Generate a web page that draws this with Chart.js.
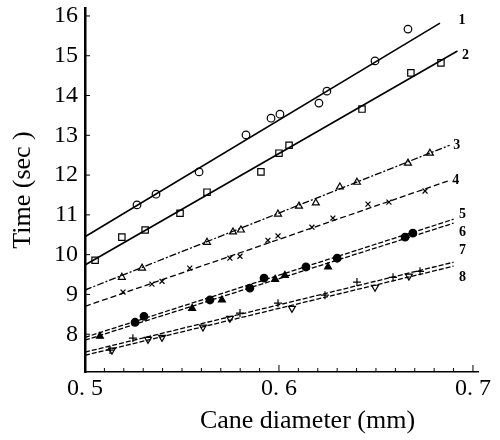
<!DOCTYPE html>
<html>
<head>
<meta charset="utf-8">
<script src="https://cdn.jsdelivr.net/npm/chart.js@4.4.1/dist/chart.umd.min.js"></script>
<style>
  body { margin: 0; background: #fff; }
  #wrap { width: 500px; height: 440px; }
</style>
</head>
<body>
<div id="wrap"><canvas id="cane-chart" width="500" height="440"></canvas></div>
<script>
// tick labels
const xTickValues = [0.5, 0.6, 0.7];
const xTickLabels = ['0. 5', '0. 6', '0. 7'];
const yTickValues = [8, 9, 10, 11, 12, 13, 14, 15, 16];
const seriesNames = ['1', '2', '3', '4', '5', '6', '7', '8'];
const xTitle = 'Cane diameter (mm)';
const yTitle = 'Time (sec )';

// measured points, one pair of arrays per curve
const s1X = [0.5268, 0.5366, 0.5588, 0.5830, 0.5959, 0.6005, 0.6206, 0.6247, 0.6495, 0.6665];
const s1Y = [11.25, 11.52, 12.08, 13.01, 13.43, 13.53, 13.81, 14.11, 14.87, 15.67];
const s2X = [0.5052, 0.519, 0.531, 0.549, 0.5629, 0.5907, 0.600, 0.6052, 0.6428, 0.668, 0.6835];
const s2Y = [9.86, 10.44, 10.62, 11.04, 11.57, 12.08, 12.55, 12.75, 13.66, 14.57, 14.82];
const s3X = [0.519, 0.5294, 0.5629, 0.5763, 0.5804, 0.5995, 0.6103, 0.619, 0.6314, 0.6402, 0.6665, 0.6778];
const s3Y = [9.43, 9.66, 10.31, 10.57, 10.62, 11.02, 11.22, 11.30, 11.70, 11.82, 12.30, 12.55];
const s4X = [0.5196, 0.5345, 0.5397, 0.554, 0.5747, 0.5799, 0.5943, 0.5995, 0.617, 0.6278, 0.6459, 0.6567, 0.6753];
const s4Y = [9.06, 9.26, 9.33, 9.66, 9.91, 9.96, 10.36, 10.47, 10.69, 10.92, 11.27, 11.32, 11.60];
const s5X = [0.5258, 0.5304, 0.5644, 0.585, 0.5923, 0.6139, 0.630, 0.665, 0.669];
const s5Y = [8.30, 8.45, 8.86, 9.16, 9.41, 9.69, 9.91, 10.44, 10.54];
const s6X = [0.5077, 0.5552, 0.5706, 0.598, 0.603, 0.6253];
const s6Y = [7.95, 8.65, 8.86, 9.38, 9.48, 9.69];
const s7X = [0.5129, 0.5247, 0.5799, 0.5995, 0.6237, 0.6402, 0.6588, 0.6727];
const s7Y = [7.60, 7.90, 8.53, 8.78, 8.98, 9.31, 9.43, 9.58];
const s8X = [0.5139, 0.5325, 0.5397, 0.5608, 0.5747, 0.6067, 0.6495, 0.667];
const s8Y = [7.60, 7.87, 7.92, 8.18, 8.40, 8.65, 9.18, 9.46];

// fitted straight lines: start and end of each
const fitStartX = [0.5, 0.5, 0.5, 0.5, 0.5, 0.5, 0.5, 0.5];
const fitStartY = [10.45, 9.74, 9.11, 8.70, 7.92, 7.85, 7.55, 7.47];
const fitEndX = [0.683, 0.692, 0.688, 0.687, 0.690, 0.690, 0.690, 0.690];
const fitEndY = [15.82, 15.12, 12.75, 11.85, 10.89, 10.79, 9.81, 9.71];

const pointsX = [s1X, s2X, s3X, s4X, s5X, s6X, s7X, s8X];
const pointsY = [s1Y, s2Y, s3Y, s4Y, s5Y, s6Y, s7Y, s8Y];

const markerStyles = [
    { pointStyle: 'circle', pointRadius: 3.8, fill: '#fff' },
    { pointStyle: 'rect', pointRadius: 4.5, fill: '#fff' },
    { pointStyle: 'triangle', pointRadius: 4, fill: '#fff' },
    { pointStyle: 'crossRot', pointRadius: 3.5, fill: '#000' },
    { pointStyle: 'circle', pointRadius: 3.8, fill: '#000' },
    { pointStyle: 'triangle', pointRadius: 4, fill: '#000' },
    { pointStyle: 'cross', pointRadius: 4, fill: '#000' },
    { pointStyle: 'triangle', pointRadius: 4, fill: '#fff', rotation: 180 }
];
const lineDashes = [[], [], [7, 2, 2, 2], [6, 3], [5, 2], [5, 2], [5, 2], [5, 2]];

const datasets = [];
seriesNames.forEach((name, i) => {
    datasets.push({
        label: 'fit ' + name,
        data: [{ x: fitStartX[i], y: fitStartY[i] }, { x: fitEndX[i], y: fitEndY[i] }],
        showLine: true,
        borderColor: '#000',
        borderWidth: i < 2 ? 1.6 : 1.3,
        borderDash: lineDashes[i],
        pointRadius: 0
    });
    const m = markerStyles[i];
    datasets.push({
        label: name,
        data: pointsX[i].map((x, j) => ({ x: x, y: pointsY[i][j] })),
        showLine: false,
        pointStyle: m.pointStyle,
        pointRadius: m.pointRadius,
        pointRotation: m.rotation || 0,
        pointBackgroundColor: m.fill,
        pointBorderColor: '#000',
        pointBorderWidth: 1.2
    });
});

const serif = '"Liberation Serif", "DejaVu Serif", serif';

// small inward ticks on both axes, plus the x title (sits right of centre in the original)
const axisTicks = {
    id: 'axisTicks',
    afterDraw(chart) {
        const { ctx, chartArea, scales } = chart;
        ctx.save();
        ctx.strokeStyle = '#000';
        ctx.lineWidth = 1;
        ctx.beginPath();
        for (let k = 50; k <= 70; k++) {
            const px = scales.x.getPixelForValue(k / 100);
            const len = k % 10 === 0 ? 7 : 4;
            ctx.moveTo(px, chartArea.bottom);
            ctx.lineTo(px, chartArea.bottom - len);
        }
        yTickValues.forEach(v => {
            const py = scales.y.getPixelForValue(v);
            ctx.moveTo(chartArea.left, py);
            ctx.lineTo(chartArea.left + 5, py);
        });
        ctx.stroke();

        ctx.fillStyle = '#000';
        ctx.font = '26px ' + serif;
        ctx.textAlign = 'center';
        ctx.textBaseline = 'middle';
        ctx.fillText(xTitle, (chartArea.left + chartArea.right) / 2 + 26, 421);
        ctx.restore();
    }
};

// curve numbers at the right ends of the lines
const labelOffsets = [[22, -3], [8, 4], [7, 0], [8, -1], [9, -5], [9, 9], [9, -12], [9, 11]];
const curveNumbers = {
    id: 'curveNumbers',
    afterDatasetsDraw(chart) {
        const { ctx, scales } = chart;
        ctx.save();
        ctx.fillStyle = '#000';
        ctx.font = 'bold 14px "Liberation Serif"';
        ctx.textAlign = 'center';
        ctx.textBaseline = 'middle';
        seriesNames.forEach((name, i) => {
            const px = scales.x.getPixelForValue(fitEndX[i]) + labelOffsets[i][0];
            const py = scales.y.getPixelForValue(fitEndY[i]) + labelOffsets[i][1];
            ctx.fillText(name, px, py);
        });
        ctx.restore();
    }
};

new Chart(document.getElementById('cane-chart').getContext('2d'), {
    type: 'scatter',
    data: { datasets: datasets },
    options: {
        responsive: false,
        animation: false,
        layout: { padding: { top: 8, right: 22, left: 0, bottom: 0 } },
        plugins: {
            legend: { display: false },
            tooltip: { enabled: false }
        },
        scales: {
            x: {
                type: 'linear',
                min: 0.5,
                max: 0.7026,
                afterBuildTicks: scale => { scale.ticks = xTickValues.map(v => ({ value: v })); },
                afterFit: scale => {
                    scale.height = 68;
                    scale.paddingLeft = 0;
                    scale.paddingRight = 0;
                },
                ticks: {
                    color: '#000',
                    padding: 2,
                    maxRotation: 0,
                    font: { family: serif, size: 24 },
                    callback: (value, index) => xTickLabels[index]
                },
                grid: { display: false, drawTicks: false },
                border: { display: true, color: '#000', width: 1.5 },
                title: { display: false }
            },
            y: {
                type: 'linear',
                min: 7.05,
                max: 16.2,
                afterBuildTicks: scale => { scale.ticks = yTickValues.map(v => ({ value: v })); },
                afterFit: scale => {
                    scale.width = 85;
                    scale.paddingTop = 0;
                    scale.paddingBottom = 0;
                },
                ticks: {
                    color: '#000',
                    padding: 7,
                    font: { family: serif, size: 24 },
                    callback: value => String(value)
                },
                grid: { display: false, drawTicks: false },
                border: { display: true, color: '#000', width: 2.5 },
                title: {
                    display: true,
                    text: yTitle,
                    color: '#000',
                    font: { family: serif, size: 26 },
                    padding: { top: 8, bottom: 4 }
                }
            }
        }
    },
    plugins: [axisTicks, curveNumbers]
});
</script>
</body>
</html>
